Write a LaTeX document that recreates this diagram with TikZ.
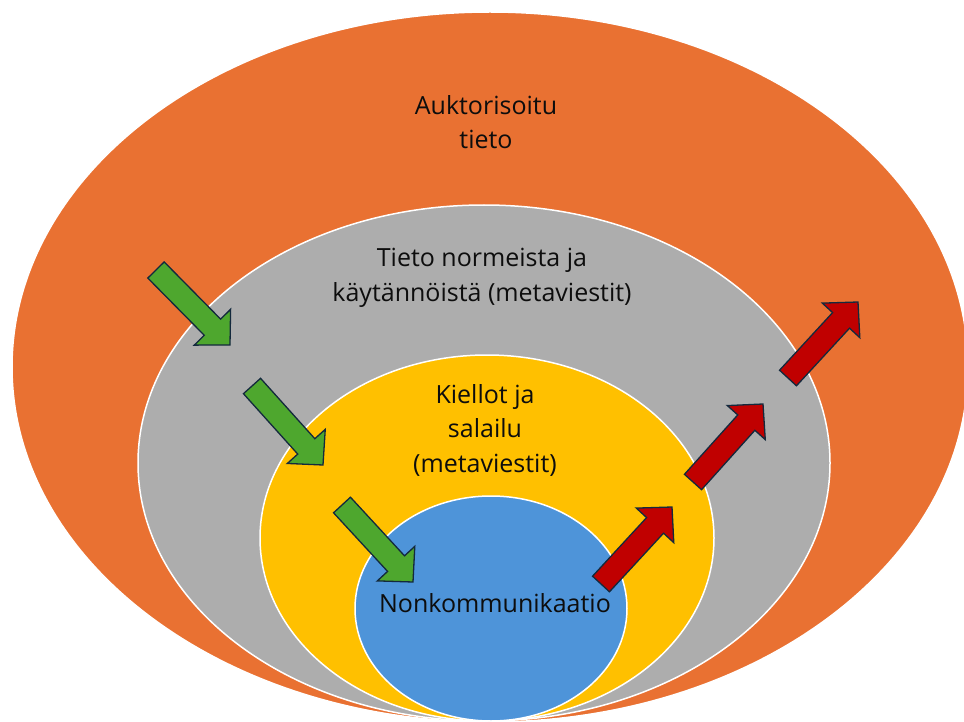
\documentclass[tikz,border=0pt]{standalone}
\usepackage{fontspec}
\setmainfont{Open Sans}
\usetikzlibrary{calc,shapes.geometric}
\definecolor{orangeC}{HTML}{E97132}
\definecolor{grayC}{HTML}{ADADAD}
\definecolor{yellowC}{HTML}{FFC000}
\definecolor{blueC}{HTML}{4E94D9}
\definecolor{greenC}{HTML}{4EA72E}
\definecolor{redC}{HTML}{C00000}
\definecolor{arrowline}{HTML}{13293D}
\definecolor{textC}{HTML}{0D0D0D}
\tikzset{
  ring/.style={ellipse, draw=white, line width=1.5pt, inner sep=0pt},
  label/.style={text=textC, align=center, font=\fontsize{25}{34.5}\selectfont, inner sep=0pt},
  arrowstyle/.style={draw=arrowline, line width=1.3pt, line join=miter}
}
\newcommand{\blkarrow}[3]{%
  \coordinate (#2-h) at ($(#3)!25pt!(#2)$);
  \filldraw[arrowstyle, fill=#1]
    ($(#2)!11.5pt!90:(#3)$) -- ($(#2-h)!11.5pt!90:(#3)$) -- ($(#2-h)!25.5pt!90:(#3)$)
    -- (#3) -- ($(#2-h)!25.5pt!-90:(#3)$) -- ($(#2-h)!11.5pt!-90:(#3)$)
    -- ($(#2)!11.5pt!-90:(#3)$) -- cycle;}
\begin{document}
\begin{tikzpicture}[x=1pt,y=-1pt]
\useasboundingbox (0,0) rectangle (964,722);
\clip (0,0) rectangle (964,722);
\fill[white] (0,0) rectangle (964,722);
\node[ring, fill=orangeC, minimum width=956pt, minimum height=710pt] (outer) at (490,367) {};
\node[ring, fill=grayC, minimum width=692pt, minimum height=516pt] (norms) at (484,463) {};
\node[ring, fill=yellowC, minimum width=454pt, minimum height=366pt] (bans) at (487,538) {};
\node[ring, fill=blueC, minimum width=272pt, minimum height=225pt] (core) at (491,608.5) {};
\node[label] (t-outer) at (486,122) {Auktorisoitu\\tieto};
\node[label] (t-norms) at (482,278) {Tieto normeista ja\\käytännöistä (metaviestit)};
\node[label] (t-bans) at (485,430) {Kiellot ja\\salailu\\(metaviestit)};
\node[label] (t-core) at (495,603) {Nonkommunikaatio};
\coordinate (g1) at (156,270); \coordinate (g1t) at (230,345);
\coordinate (g2) at (252,386); \coordinate (g2t) at (323,465);
\coordinate (g3) at (342,505); \coordinate (g3t) at (413,582);
\coordinate (r1) at (601,584); \coordinate (r1t) at (672,507);
\coordinate (r2) at (693,482); \coordinate (r2t) at (763,404);
\coordinate (r3) at (788,378); \coordinate (r3t) at (858,302);
\blkarrow{greenC}{g1}{g1t}
\blkarrow{greenC}{g2}{g2t}
\blkarrow{greenC}{g3}{g3t}
\blkarrow{redC}{r1}{r1t}
\blkarrow{redC}{r2}{r2t}
\blkarrow{redC}{r3}{r3t}
\end{tikzpicture}
\end{document}
